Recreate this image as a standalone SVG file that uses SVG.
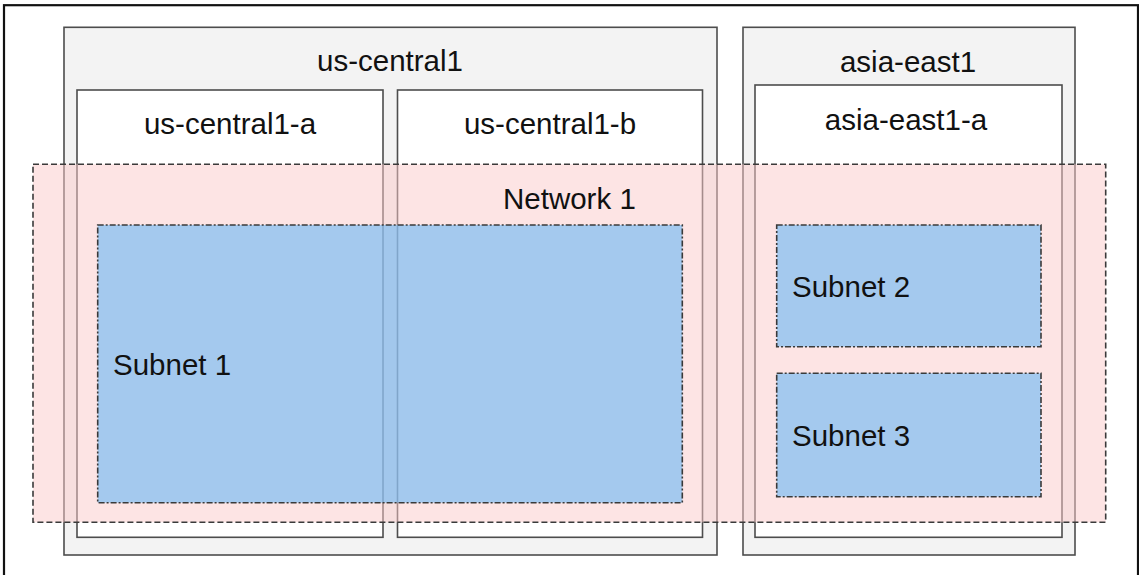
<svg xmlns="http://www.w3.org/2000/svg" width="1139" height="575" viewBox="0 0 1139 575">
  <style>
    .frame { fill: #ffffff; stroke: #111111; stroke-width: 2.2; }
    .region { fill: #f3f3f3; stroke: #4d4d4d; stroke-width: 1.6; }
    .zone { fill: #ffffff; stroke: #4d4d4d; stroke-width: 1.6; }
    .network { fill: #fbcaca; fill-opacity: 0.5; stroke: #3a3a3a; stroke-width: 1.6; stroke-dasharray: 6 3; }
    .subnet { fill: #69b7f5; fill-opacity: 0.6; stroke: #3a3a3a; stroke-width: 1.6; stroke-dasharray: 6 2 2 2; }
    text { font-family: "Liberation Sans", Arial, sans-serif; font-size: 29.5px; fill: #111111; }
    .mid { text-anchor: middle; }
  </style>
  <rect x="0" y="0" width="1139" height="575" fill="#ffffff"/>
  <rect class="frame" x="4" y="5.2" width="1134" height="580"/>

  <g id="us-central1">
    <rect class="region" x="64" y="27.3" width="653" height="527.7"/>
    <text class="mid" x="390" y="71">us-central1</text>
  </g>
  <g id="asia-east1">
    <rect class="region" x="743" y="27.3" width="332" height="527.7"/>
    <text class="mid" x="908" y="72">asia-east1</text>
  </g>
  <g id="us-central1-a">
    <rect class="zone" x="77" y="90" width="306" height="447.3"/>
    <text class="mid" x="230" y="134">us-central1-a</text>
  </g>
  <g id="us-central1-b">
    <rect class="zone" x="397.5" y="90" width="305" height="447.3"/>
    <text class="mid" x="550" y="134">us-central1-b</text>
  </g>
  <g id="asia-east1-a">
    <rect class="zone" x="755" y="85" width="307" height="452.3"/>
    <text class="mid" x="906" y="130">asia-east1-a</text>
  </g>
  <g id="network-1">
    <rect class="network" x="33" y="164.3" width="1072.7" height="358"/>
    <text x="503" y="209">Network 1</text>
  </g>
  <g id="subnet-1">
    <rect class="subnet" x="97.7" y="225" width="584.6" height="277.7"/>
    <text x="113" y="375">Subnet 1</text>
  </g>
  <g id="subnet-2">
    <rect class="subnet" x="776.7" y="225" width="264.3" height="121.7"/>
    <text x="792" y="297">Subnet 2</text>
  </g>
  <g id="subnet-3">
    <rect class="subnet" x="776.7" y="373.3" width="264.3" height="123.4"/>
    <text x="792" y="446">Subnet 3</text>
  </g>
  <g id="connectors"/>
</svg>
